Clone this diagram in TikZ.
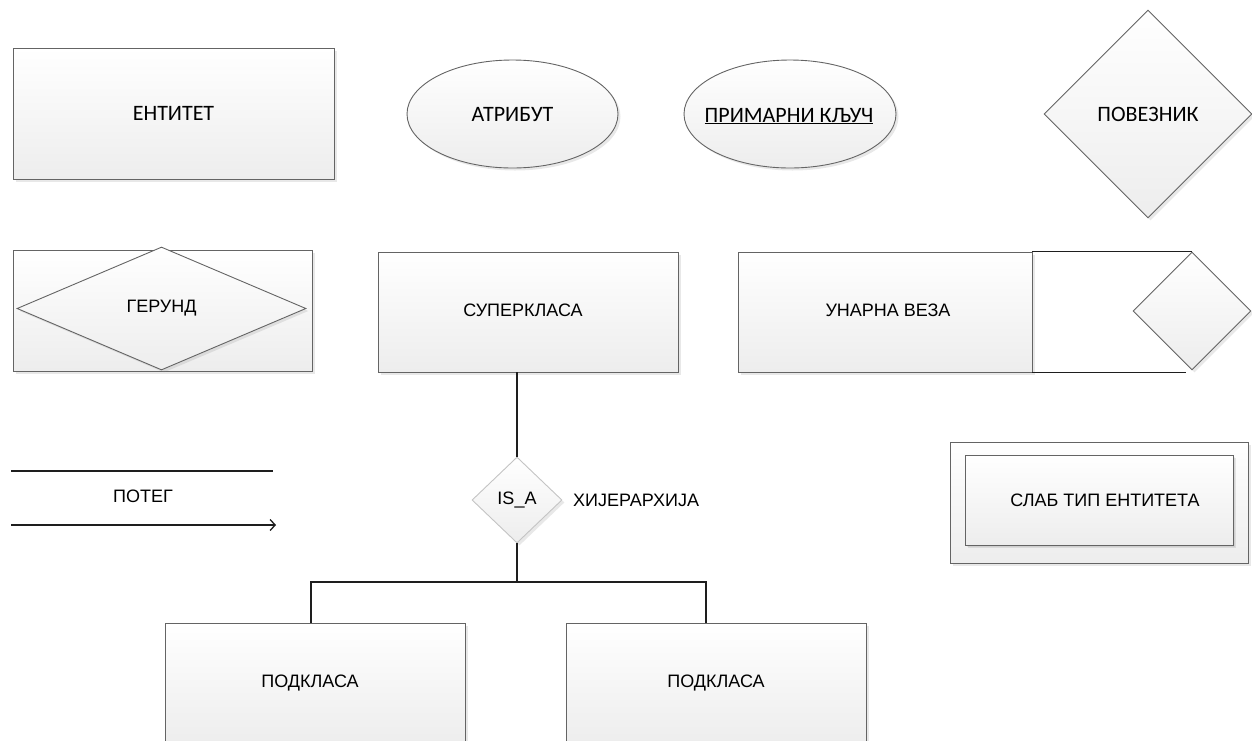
\documentclass[tikz,border=0pt]{standalone}
\usepackage{fontspec}
\setmainfont{Carlito}
\newfontfamily\smallsans{Liberation Sans}
\usetikzlibrary{shapes.geometric,shadows,arrows.meta}
\definecolor{brd}{HTML}{646464}
\definecolor{bot}{HTML}{EDEDED}
\definecolor{lnk}{HTML}{1E1E1E}
\definecolor{lite}{HTML}{C4C4C4}
\tikzset{
  shp/.style={draw=brd, line width=0.9pt, top color=white, bottom color=bot,
    drop shadow={opacity=0.18, shadow xshift=2.5pt, shadow yshift=-2.5pt},
    inner sep=0pt, text=black},
  bigtxt/.style={font=\fontsize{22}{26}\selectfont},
  smtxt/.style={font=\smallsans\fontsize{18}{22}\selectfont},
  rectbox/.style={shp, rectangle},
  ellbox/.style={shp, ellipse},
  diabox/.style={shp, diamond},
  conn/.style={draw=lnk, line width=1.3pt},
  plain/.style={inner sep=0pt, text=black}
}
\begin{document}
\begin{tikzpicture}[x=1pt,y=-1pt]
\useasboundingbox (0,0) rectangle (1252,740);
% top row
\node[rectbox, bigtxt, minimum width=321pt, minimum height=131pt] (ent) at (173.5,113.5) {ЕНТИТЕТ};
\node[ellbox, bigtxt, minimum width=211pt, minimum height=108pt] (attr) at (512.5,114) {АТРИБУТ};
\node[ellbox, minimum width=212pt, minimum height=108pt] (pk) at (790,114) {};
\node[plain, bigtxt, anchor=base] (pklbl) at (789,122) {\underline{ПРИМАРНИ КЉУЧ}};
\node[diabox, bigtxt, minimum width=208pt, minimum height=208pt] (rel) at (1148,114) {ПОВЕЗНИК};
% gerund
\node[rectbox, minimum width=299pt, minimum height=121pt] (gerr) at (162.5,310.5) {};
\node[diabox, smtxt, minimum width=289pt, minimum height=123pt, drop shadow={opacity=0}] (ger) at (161.5,308.5) {ГЕРУНД};
% superclass
\node[rectbox, minimum width=300pt, minimum height=120pt] (sup) at (528,312) {};
\node[plain, smtxt] (suplbl) at (523,310) {СУПЕРКЛАСА};
% unary
\node[rectbox, minimum width=294pt, minimum height=120pt] (una) at (885,312) {};
\node[plain, smtxt] (unalbl) at (888,310) {УНАРНА ВЕЗА};
\node[diabox, minimum width=118pt, minimum height=118pt] (udia) at (1192,311) {};
\draw[conn] (una.north east) -- (una.north east -| udia.north);
\draw[conn] (una.south east) -- ([xshift=-6pt]una.south east -| udia.south);
% IS_A hierarchy
\node[shp, diamond, draw=lite, smtxt, minimum width=90pt, minimum height=86pt, drop shadow={opacity=0}] (isa) at (517,500) {IS\_A};
\node[plain, smtxt, anchor=west] (hier) at (573,500) {ХИЈЕРАРХИЈА};
\draw[conn] (isa.north |- sup.south) -- (isa.north);
% subclasses
\node[rectbox, minimum width=300pt, minimum height=120pt] (sub1) at (315,683) {};
\node[plain, smtxt] (sub1lbl) at (310,683) {ПОДКЛАСА};
\node[rectbox, minimum width=300pt, minimum height=120pt] (sub2) at (716,683) {};
\node[plain, smtxt] (sub2lbl) at (716,683) {ПОДКЛАСА};
\coordinate (j) at (517,582);
\draw[conn] (isa.south) -- (j);
\draw[conn] ([xshift=-4pt]sub1.north) |- (j) -| ([xshift=-10pt]sub2.north);
% edge legend
\coordinate (p1) at (11,471);
\coordinate (p2) at (273,471);
\coordinate (a1) at (11,525);
\coordinate (a2) at (276,525);
\draw[conn] (p1) -- (p2);
\draw[conn, -{Straight Barb[length=5pt,width=11pt,line width=1.3pt]}] (a1) -- (a2);
\node[plain, smtxt] (edge) at (143,496) {ПОТЕГ};
% weak entity
\node[rectbox, minimum width=298pt, minimum height=121pt] (weako) at (1099,502.5) {};
\node[rectbox, smtxt, minimum width=268pt, minimum height=90pt, drop shadow={opacity=0.12, shadow xshift=1.5pt, shadow yshift=-1.5pt}] (weak) at (1099,500) {\hspace*{12pt}СЛАБ ТИП ЕНТИТЕТА};
\end{tikzpicture}
\end{document}
